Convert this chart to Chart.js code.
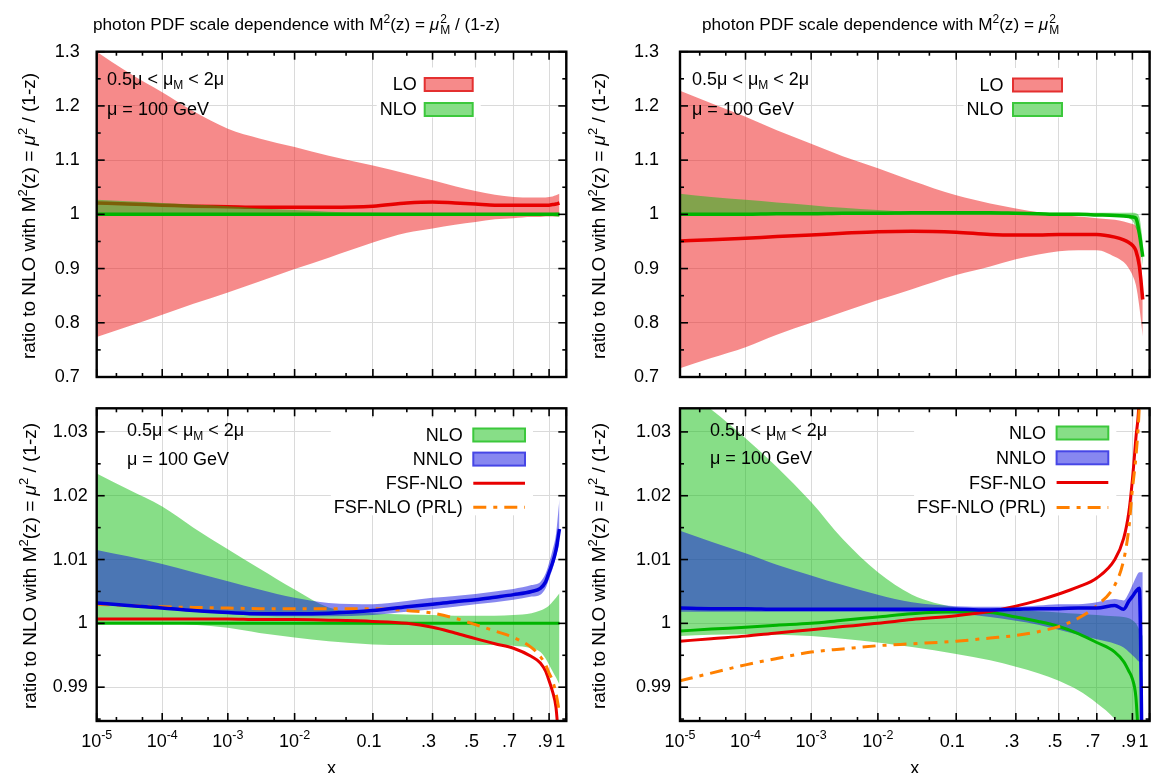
<!DOCTYPE html>
<html>
<head>
<meta charset="utf-8">
<script src="https://cdn.jsdelivr.net/npm/chart.js@4.4.0/dist/chart.umd.min.js"></script>
<style>
  body { margin:0; background:#fff; width:1153px; height:773px; overflow:hidden; position:relative;
         font-family:"Liberation Sans", Arial, sans-serif; color:#000; }
  canvas { position:absolute; left:0; top:0; }
  .txt { position:absolute; font-size:18px; line-height:18px; white-space:nowrap; z-index:5; }
  .ttl { font-size:17.2px; }
  .ytl { position:absolute; font-size:19px; line-height:19px; white-space:nowrap; z-index:5;
         transform:translate(-50%,-50%) rotate(-90deg); }
  sup { font-size:12px; line-height:0; vertical-align:7px; }
  sub { font-size:12px; line-height:0; vertical-align:-4px; }
  .ytl sup { font-size:13px; vertical-align:8px; }
  .ss { display:inline-block; font-size:12px; line-height:11px; vertical-align:-4px; margin-left:1px; }
</style>
</head>
<body>
<canvas id="tl" width="1153" height="790"></canvas>
<canvas id="tr" width="1153" height="790"></canvas>
<canvas id="bl" width="1153" height="790"></canvas>
<canvas id="br" width="1153" height="790"></canvas>

<div class="txt ttl" style="left:93px;top:14px">photon PDF scale dependence with M<sup>2</sup>(z) = <i>μ</i><span class="ss">2<br>M</span> / (1-z)</div>
<div class="txt ttl" style="left:702px;top:14px">photon PDF scale dependence with M<sup>2</sup>(z) = <i>μ</i><span class="ss">2<br>M</span></div>

<div class="ytl" style="left:28px;top:216px">ratio to NLO with M<sup>2</sup>(z) = <i>μ</i><sup>2</sup> / (1-z)</div>
<div class="ytl" style="left:598px;top:216px">ratio to NLO with M<sup>2</sup>(z) = <i>μ</i><sup>2</sup> / (1-z)</div>
<div class="ytl" style="left:29px;top:566px">ratio to NLO with M<sup>2</sup>(z) = <i>μ</i><sup>2</sup> / (1-z)</div>
<div class="ytl" style="left:598px;top:566px">ratio to NLO with M<sup>2</sup>(z) = <i>μ</i><sup>2</sup> / (1-z)</div>

<div class="txt" style="left:107px;top:70px">0.5μ &lt; μ<sub>M</sub> &lt; 2μ</div>
<div class="txt" style="left:107px;top:100px">μ = 100 GeV</div>
<div class="txt" style="left:692px;top:70px">0.5μ &lt; μ<sub>M</sub> &lt; 2μ</div>
<div class="txt" style="left:692px;top:100px">μ = 100 GeV</div>
<div class="txt" style="left:127px;top:421px">0.5μ &lt; μ<sub>M</sub> &lt; 2μ</div>
<div class="txt" style="left:127px;top:450px">μ = 100 GeV</div>
<div class="txt" style="left:710px;top:421px">0.5μ &lt; μ<sub>M</sub> &lt; 2μ</div>
<div class="txt" style="left:710px;top:449px">μ = 100 GeV</div>

<script>
// x sampling points shared by all curves
const xs = [1e-5, 3e-5, 1e-4, 3e-4, 1e-3, 3e-3, 0.01, 0.03, 0.1, 0.2, 0.3, 0.4, 0.5, 0.6, 0.7, 0.8, 0.85, 0.88, 0.9, 0.92, 0.94, 0.96];

// axis ticks ("^" marks a superscript)
const xMajor = [1e-5, 1e-4, 1e-3, 1e-2, 0.1, 0.3, 0.5, 0.7, 0.9, 1];
const xLabels = ['10^-5', '10^-4', '10^-3', '10^-2', '0.1', '.3', '.5', '.7', '.9', '1'];
const xMinor = [2e-5, 5e-5, 2e-4, 5e-4, 2e-3, 5e-3, 2e-2, 5e-2, 0.2, 0.4, 0.6, 0.8];
const yTopMajor = [0.7, 0.8, 0.9, 1.0, 1.1, 1.2, 1.3];
const yTopMinor = [0.75, 0.85, 0.95, 1.05, 1.15, 1.25];
const yBotMajor = [0.99, 1.0, 1.01, 1.02, 1.03];
const yBotMinor = [0.985, 0.995, 1.005, 1.015, 1.025];

// top left: M^2 = mu_M^2/(1-z)
const tlLoHi  = [1.300,1.262,1.225,1.190,1.158,1.140,1.124,1.108,1.090,1.075,1.063,1.052,1.043,1.036,1.032,1.031,1.031,1.031,1.032,1.033,1.035,1.038];
const tlLoLo  = [0.774,0.793,0.815,0.835,0.856,0.876,0.899,0.920,0.948,0.966,0.974,0.981,0.986,0.991,0.993,0.995,0.995,0.996,0.996,0.996,0.996,0.996];
const tlLoMid = [1.021,1.019,1.017,1.015,1.014,1.013,1.013,1.013,1.015,1.021,1.023,1.021,1.019,1.017,1.017,1.017,1.017,1.017,1.017,1.018,1.019,1.021];
const tlNloHi = [1.027,1.024,1.021,1.018,1.015,1.011,1.008,1.005,1.003,1.002,1.002,1.002,1.002,1.002,1.002,1.002,1.002,1.002,1.002,1.002,1.003,1.003];
const tlNloLo = [1.000,1.000,1.000,1.000,0.999,0.999,0.999,0.999,0.999,0.999,0.999,0.999,0.999,0.999,0.999,0.998,0.998,0.998,0.997,0.997,0.996,0.995];
const tlNloMid = [1,1,1,1,1,1,1,1,1,1,1,1,1,1,1,1,1,1,1,1,1,1];

// top right: M^2 = mu_M^2
const trLoHi  = [1.228,1.205,1.180,1.155,1.130,1.107,1.085,1.062,1.035,1.020,1.011,1.004,0.999,0.996,0.993,0.990,0.987,0.984,0.982,0.978,0.960,0.870];
const trLoLo  = [0.716,0.735,0.755,0.778,0.800,0.820,0.842,0.862,0.888,0.904,0.917,0.926,0.932,0.934,0.934,0.922,0.912,0.900,0.888,0.870,0.830,0.775];
const trLoMid = [0.951,0.953,0.956,0.959,0.962,0.965,0.968,0.969,0.967,0.963,0.962,0.962,0.963,0.963,0.963,0.958,0.953,0.948,0.943,0.933,0.905,0.843];
const trNloHi = [1.038,1.032,1.027,1.022,1.017,1.012,1.008,1.005,1.004,1.003,1.003,1.003,1.003,1.003,1.003,1.003,1.003,1.003,1.003,1.002,0.995,0.950];
const trNloLo = [0.999,0.999,0.999,0.999,0.999,0.999,0.999,0.999,0.999,0.999,0.999,0.999,0.999,0.999,0.999,0.998,0.997,0.993,0.988,0.975,0.955,0.905];
const trNloMid = [1.000,1.000,1.000,1.001,1.001,1.002,1.002,1.003,1.003,1.003,1.002,1.001,1.000,1.000,0.999,0.998,0.997,0.996,0.995,0.993,0.965,0.922];

// bottom left
const blNloHi  = [1.0235,1.021,1.0183,1.015,1.0116,1.0086,1.0053,1.0025,1.0016,1.0014,1.0013,1.0012,1.0012,1.0012,1.0013,1.0016,1.002,1.0024,1.0028,1.0034,1.004,1.0047];
const blNloLo  = [1.0,1.0,1.0,0.9998,0.9993,0.9985,0.9978,0.9972,0.9967,0.9966,0.9966,0.9966,0.9966,0.9966,0.9965,0.9961,0.9955,0.9945,0.9935,0.9925,0.9915,0.9904];
const blNloMid = [1,1,1,1,1,1,1,1,1,1,1,1,1,1,1,1,1,1,1,1,1,1];
const blNnloHi = [1.0115,1.0105,1.0093,1.008,1.0066,1.0053,1.004,1.0032,1.003,1.0035,1.004,1.0043,1.0046,1.005,1.0054,1.006,1.0065,1.0078,1.0095,1.0115,1.014,1.0195];
const blNnloLo = [1.003,1.0026,1.0022,1.0018,1.0015,1.0012,1.0011,1.0011,1.0013,1.0018,1.0022,1.0026,1.003,1.0033,1.0037,1.0042,1.0045,1.0055,1.007,1.0085,1.0105,1.0125];
const blNnloMid = [1.0032,1.0028,1.0024,1.002,1.0017,1.0015,1.0015,1.0016,1.002,1.0026,1.003,1.0034,1.0037,1.0041,1.0045,1.005,1.0055,1.0065,1.008,1.0095,1.0115,1.0148];
const blFsf = [1.0007,1.0007,1.0007,1.0007,1.0007,1.0006,1.0006,1.0005,1.0003,1.0,0.9994,0.9985,0.9976,0.9968,0.9961,0.9948,0.9938,0.9925,0.991,0.9893,0.9868,0.98];
const blPrl = [1.003,1.0028,1.0026,1.0025,1.0024,1.0023,1.0023,1.0023,1.0023,1.002,1.0016,1.0008,0.9998,0.9988,0.9978,0.9962,0.9948,0.9935,0.9922,0.991,0.989,0.986];

// bottom right
const brNloHi  = [1.037,1.0335,1.029,1.0245,1.019,1.0132,1.008,1.0045,1.0025,1.002,1.002,1.0019,1.0017,1.0015,1.0013,1.0011,1.001,1.0008,1.0005,1.0,0.999,0.998];
const brNloLo  = [0.998,0.9982,0.9983,0.9982,0.998,0.9976,0.997,0.9963,0.9952,0.9942,0.9932,0.9922,0.991,0.9895,0.9875,0.985,0.983,0.982,0.98,0.978,0.975,0.97];
const brNloMid = [0.9988,0.9991,0.9994,0.9997,1.0,1.0005,1.001,1.0015,1.0018,1.0017,1.001,1.0003,0.9995,0.9984,0.997,0.9955,0.994,0.9925,0.9913,0.9885,0.98,0.975];
const brNnloHi = [1.0145,1.0128,1.011,1.0092,1.0075,1.006,1.0045,1.0033,1.0027,1.0026,1.0026,1.0028,1.003,1.003,1.0033,1.0038,1.0036,1.0048,1.006,1.0072,1.008,1.008];
const brNnloLo = [1.0018,1.0018,1.0018,1.0018,1.0018,1.0018,1.0018,1.0017,1.0015,1.001,1.0004,0.9998,0.999,0.9982,0.9975,0.9968,0.9962,0.9955,0.995,0.9945,0.994,0.994];
const brNnloMid = [1.0024,1.0023,1.0023,1.0022,1.0022,1.0022,1.0022,1.0022,1.0022,1.0021,1.0022,1.0023,1.0023,1.0024,1.0024,1.0028,1.0022,1.0035,1.0042,1.005,1.0055,0.97];
const brFsf = [0.9972,0.9976,0.998,0.9985,0.999,0.9995,1.0,1.0006,1.0012,1.0019,1.0027,1.0036,1.0046,1.0057,1.0071,1.0100,1.0133,1.0175,1.0225,1.029,1.036,1.06];
const brPrl = [0.991,0.9922,0.9935,0.9945,0.9955,0.996,0.9965,0.9968,0.9972,0.9977,0.9981,0.9987,0.9995,1.0008,1.0028,1.006,1.0099,1.015,1.021,1.026,1.034,1.05];

// x axis: log at small x, stretched towards x = 1
const tf = x => Math.log10(x) + 2.17 * x;

const FONT = 'Liberation Sans';
const RED_F = 'rgba(237,21,21,0.5)', GRN_F = 'rgba(15,189,15,0.5)', BLU_F = 'rgba(15,15,225,0.5)';
const RED = '#e80000', GRN = '#00b400', BLU = '#0000dc', ORG = '#ff8000';

const pts = ys => xs.map((x, i) => ({ x: tf(x), y: ys[i] }));

function band(hi, lo, fillCol, order, key, stroke) {
  return [
    { data: pts(hi), fill: '+1', backgroundColor: fillCol, borderColor: 'rgba(0,0,0,0)', borderWidth: 1,
      order: order, keyText: key, keyBox: true, keyStroke: stroke },
    { data: pts(lo), fill: false, borderColor: 'rgba(0,0,0,0)', borderWidth: 1, order: order }
  ];
}
function line(ys, col, order, width, key, dash) {
  return { data: pts(ys), fill: false, borderColor: col, borderWidth: width, order: order,
           borderDash: dash || [], keyText: key, keyBox: false };
}

// white key box with text + sample
const keyPlugin = {
  id: 'plotKey',
  afterDatasetsDraw(chart, args, o) {
    const ctx = chart.ctx;
    const items = chart.data.datasets.filter(d => d.keyText);
    ctx.save();
    ctx.font = '18px "' + FONT + '"';
    let maxW = 0;
    items.forEach(d => { maxW = Math.max(maxW, ctx.measureText(d.keyText).width); });
    const x0 = o.right - o.boxW;
    const last = o.top + (items.length - 1) * o.step;
    ctx.fillStyle = '#fff';
    ctx.fillRect(x0 - o.gap - maxW - 3, o.top - 17, maxW + o.gap + o.boxW + 11, last - o.top + 25);
    ctx.textAlign = 'right';
    ctx.textBaseline = 'middle';
    items.forEach((d, i) => {
      const y = o.top + i * o.step;
      if (d.keyBox) {
        ctx.fillStyle = d.backgroundColor;
        ctx.fillRect(x0, y - o.boxH / 2, o.boxW, o.boxH);
        ctx.strokeStyle = d.keyStroke;
        ctx.lineWidth = 2;
        ctx.setLineDash([]);
        ctx.strokeRect(x0, y - o.boxH / 2, o.boxW, o.boxH);
      } else {
        ctx.strokeStyle = d.borderColor;
        ctx.lineWidth = d.borderWidth;
        ctx.setLineDash(d.borderDash);
        ctx.beginPath();
        ctx.moveTo(x0, y); ctx.lineTo(o.right, y);
        ctx.stroke();
      }
      ctx.setLineDash([]);
      ctx.fillStyle = '#000';
      ctx.fillText(d.keyText, x0 - o.gap, y + 1);
    });
    ctx.restore();
  }
};

// gnuplot style frame with inward ticks on all four sides, plus x tick labels with superscripts
const framePlugin = {
  id: 'frame',
  afterDraw(chart, args, o) {
    const { ctx, chartArea: a, scales } = chart;
    const sx = scales.x, sy = scales.y;
    ctx.save();
    ctx.strokeStyle = '#000';
    ctx.lineWidth = 1.6;
    const seg = (x1, y1, x2, y2) => { ctx.beginPath(); ctx.moveTo(x1, y1); ctx.lineTo(x2, y2); ctx.stroke(); };
    const xt = (v, len) => { const p = sx.getPixelForValue(tf(v)); seg(p, a.bottom, p, a.bottom - len); seg(p, a.top, p, a.top + len); };
    const yt = (v, len) => { const p = sy.getPixelForValue(v); seg(a.left, p, a.left + len, p); seg(a.right, p, a.right - len, p); };
    xMajor.forEach(v => xt(v, 8));
    xMinor.forEach(v => xt(v, 4));
    o.yMajor.forEach(v => yt(v, 8));
    o.yMinor.forEach(v => yt(v, 4));
    ctx.lineWidth = 2.4;
    ctx.strokeRect(a.left, a.top, a.right - a.left, a.bottom - a.top);

    if (o.xLabels) {
      ctx.fillStyle = '#000';
      ctx.textBaseline = 'alphabetic';
      ctx.textAlign = 'left';
      const base = a.bottom + 25.5;
      sx.ticks.forEach((t, i) => {
        const parts = xLabels[i].split('^');
        const p = sx.getPixelForValue(t.value);
        ctx.font = '18px "' + FONT + '"';
        const w1 = ctx.measureText(parts[0]).width;
        let w2 = 0;
        if (parts[1]) { ctx.font = '12.5px "' + FONT + '"'; w2 = ctx.measureText(parts[1]).width; }
        let x0 = p - (w1 + w2) / 2;
        if (!parts[1]) x0 -= (i === xLabels.length - 1) ? 6 : 4;
        ctx.font = '18px "' + FONT + '"';
        ctx.fillText(parts[0], x0, base);
        if (parts[1]) { ctx.font = '12.5px "' + FONT + '"'; ctx.fillText(parts[1], x0 + w1, base - 7.5); }
      });
    }
    ctx.restore();
  }
};

function makeChart(id, p) {
  const tickFont = { family: FONT, size: 18 };
  return new Chart(document.getElementById(id), {
    type: 'line',
    data: { datasets: p.datasets },
    options: {
      responsive: false,
      animation: false,
      devicePixelRatio: 1,
      layout: { padding: p.pad },
      elements: { point: { radius: 0 }, line: { cubicInterpolationMode: 'monotone' } },
      datasets: { line: { clip: 0 } },
      plugins: {
        legend: { display: false }, tooltip: { enabled: false },
        plotKey: p.key,
        frame: { yMajor: p.yMajor, yMinor: p.yMinor, xLabels: p.xLabels }
      },
      scales: {
        x: {
          type: 'linear', min: tf(1e-5), max: tf(1),
          afterBuildTicks: s => { s.ticks = xMajor.map(v => ({ value: tf(v) })); },
          afterFit: s => { s.height = p.xLabels ? 69 : 0; s.paddingLeft = 0; s.paddingRight = 0; },
          grid: { color: '#dadada', lineWidth: 1, drawTicks: false },
          border: { display: false },
          ticks: { display: false, autoSkip: false, maxRotation: 0 },
          title: { display: p.xLabels, text: 'x', color: '#000', font: tickFont, padding: { top: 0, bottom: 10 } }
        },
        y: {
          type: 'linear', min: p.yMin, max: p.yMax,
          afterBuildTicks: s => { s.ticks = p.yMajor.map(v => ({ value: v })); },
          afterFit: s => { s.width = 70; s.paddingTop = 0; s.paddingBottom = 0; },
          grid: { color: '#dadada', lineWidth: 1, drawTicks: false },
          border: { display: false },
          ticks: { padding: p.yPad, color: '#000', font: tickFont, callback: v => String(+v.toFixed(3)) }
        }
      }
    },
    plugins: [keyPlugin, framePlugin]
  });
}

const L = 96.7, R = 566.3, L2 = 680, R2 = 1149.6;

makeChart('tl', {
  pad: { left: L - 70, right: 1153 - R, top: 51.7, bottom: 790 - 377 },
  yMin: 0.7, yMax: 1.3, yMajor: yTopMajor, yMinor: yTopMinor, yPad: 17, xLabels: false,
  key: { right: 472.7, top: 84.5, step: 25, boxW: 48, boxH: 13, gap: 8 },
  datasets: [
    ...band(tlLoHi, tlLoLo, RED_F, 6, 'LO', '#e43030'),
    line(tlLoMid, RED, 5, 3.5),
    ...band(tlNloHi, tlNloLo, GRN_F, 4, 'NLO', '#3cc83c'),
    line(tlNloMid, GRN, 3, 3.5)
  ]
});

makeChart('tr', {
  pad: { left: L2 - 70, right: 1153 - R2, top: 51.7, bottom: 790 - 377 },
  yMin: 0.7, yMax: 1.3, yMajor: yTopMajor, yMinor: yTopMinor, yPad: 21, xLabels: false,
  key: { right: 1062, top: 85, step: 24.5, boxW: 49, boxH: 13, gap: 9.5 },
  datasets: [
    ...band(trLoHi, trLoLo, RED_F, 6, 'LO', '#e43030'),
    line(trLoMid, RED, 5, 3.5),
    ...band(trNloHi, trNloLo, GRN_F, 4, 'NLO', '#3cc83c'),
    line(trNloMid, GRN, 3, 3.5)
  ]
});

makeChart('bl', {
  pad: { left: L - 70, right: 1153 - R, top: 408.3, bottom: 0 },
  yMin: 0.9847, yMax: 1.0337, yMajor: yBotMajor, yMinor: yBotMinor, yPad: 9, xLabels: true,
  key: { right: 525, top: 435, step: 24.1, boxW: 51.7, boxH: 13, gap: 10.5 },
  datasets: [
    ...band(blNloHi, blNloLo, GRN_F, 9, 'NLO', '#3cc83c'),
    ...band(blNnloHi, blNnloLo, BLU_F, 8, 'NNLO', '#4646e6'),
    line(blNloMid, GRN, 7, 3),
    line(blFsf, RED, 6, 3, 'FSF-NLO'),
    line(blPrl, ORG, 5, 3, 'FSF-NLO (PRL)', [13, 7, 4, 7]),
    line(blNnloMid, BLU, 4, 3.5)
  ]
});

makeChart('br', {
  pad: { left: L2 - 70, right: 1153 - R2, top: 408.3, bottom: 0 },
  yMin: 0.9847, yMax: 1.0337, yMajor: yBotMajor, yMinor: yBotMinor, yPad: 9, xLabels: true,
  key: { right: 1108.3, top: 433, step: 24.8, boxW: 51.7, boxH: 13, gap: 10.5 },
  datasets: [
    ...band(brNloHi, brNloLo, GRN_F, 9, 'NLO', '#3cc83c'),
    ...band(brNnloHi, brNnloLo, BLU_F, 8, 'NNLO', '#4646e6'),
    line(brNloMid, GRN, 7, 3),
    line(brFsf, RED, 6, 3, 'FSF-NLO'),
    line(brPrl, ORG, 5, 3, 'FSF-NLO (PRL)', [13, 7, 4, 7]),
    line(brNnloMid, BLU, 4, 3.5)
  ]
});
</script>
</body>
</html>
